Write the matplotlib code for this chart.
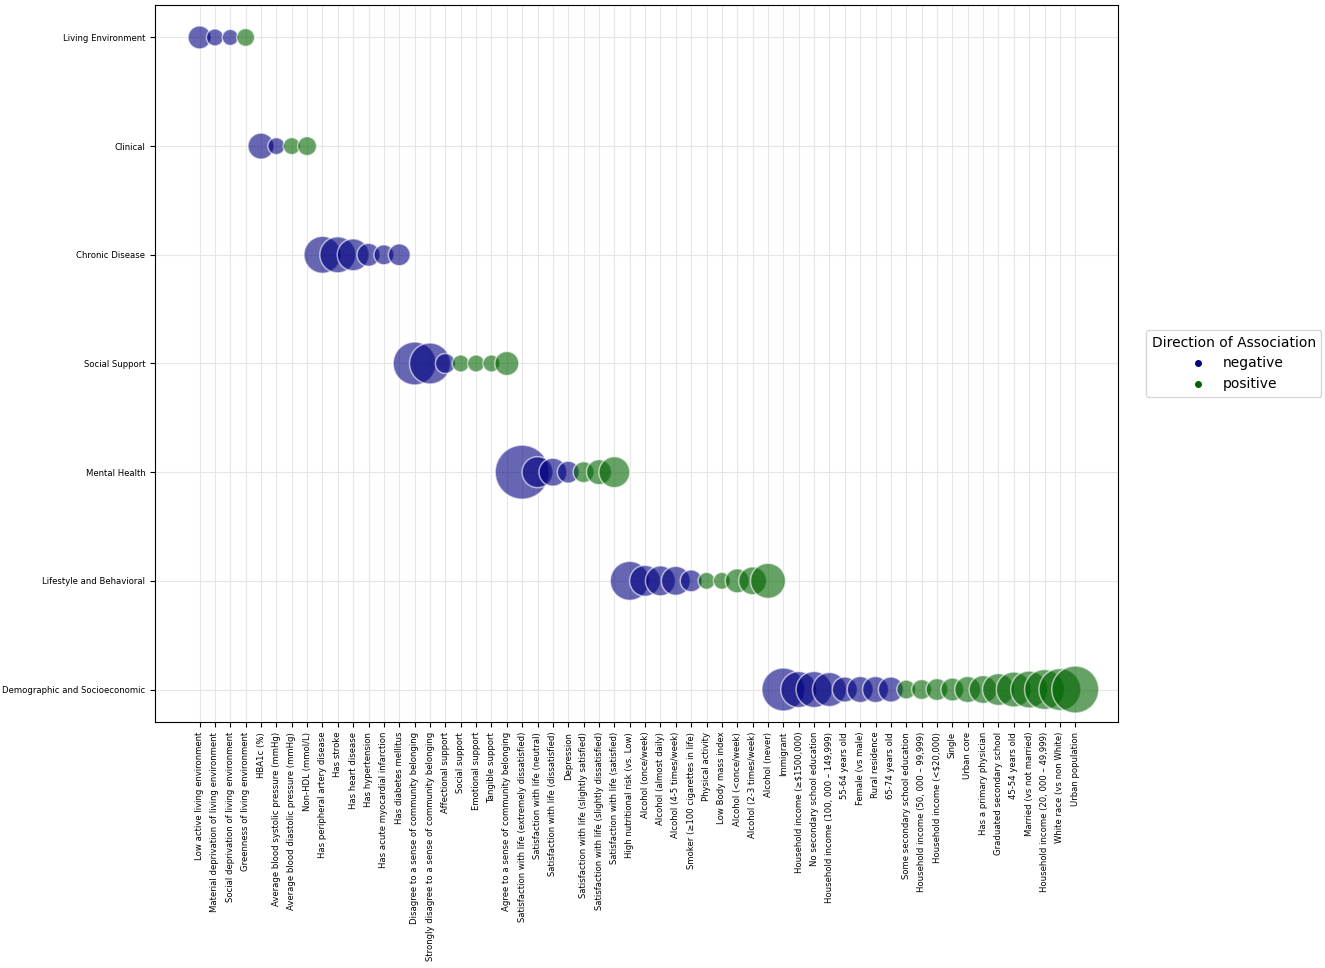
import matplotlib.pyplot as plt
from matplotlib.lines import Line2D
import numpy as np

# categories (y axis), top to bottom
categories = ["Living Environment", "Clinical", "Chronic Disease", "Social Support",
              "Mental Health", "Lifestyle and Behavioral", "Demographic and Socioeconomic"]

# factors (x axis) with their category, direction and importance
factors = [
    "Low active living environment", "Material deprivation of living environment",
    "Social deprivation of living environment", "Greenness of living environment",
    "HBA1c (%)", "Average blood systolic pressure (mmHg)",
    "Average blood diastolic pressure (mmHg)", "Non-HDL (mmol/L)",
    "Has peripheral artery disease", "Has stroke", "Has heart disease", "Has hypertension",
    "Has acute myocardial infarction", "Has diabetes mellitus",
    "Disagree to a sense of community belonging",
    "Strongly disagree to a sense of community belonging", "Affectional support",
    "Social support", "Emotional support", "Tangible support",
    "Agree to a sense of community belonging",
    "Satisfaction with life (extremely dissatisfied)", "Satisfaction with life (neutral)",
    "Satisfaction with life (dissatisfied)", "Depression",
    "Satisfaction with life (slightly satisfied)", "Satisfaction with life (slightly dissatisfied)",
    "Satisfaction with life (satisfied)",
    "High nutritional risk (vs. Low)", "Alcohol (once/week)", "Alcohol (almost daily)",
    "Alcohol (4-5 times/week)", "Smoker (≥100 cigarettes in life)", "Physical activity",
    "Low Body mass index", "Alcohol (<once/week)", "Alcohol (2-3 times/week)", "Alcohol (never)",
    "Immigrant", "Household income (≥$1500,000)", "No secondary school education",
    "Household income (100, 000 – 149,999)", "55-64 years old", "Female (vs male)",
    "Rural residence", "65-74 years old", "Some secondary school education",
    "Household income (50, 000 – 99,999)", "Household income (<$20,000)", "Single",
    "Urban core", "Has a primary physician", "Graduated secondary school", "45-54 years old",
    "Married (vs not married)", "Household income (20, 000 – 49,999)",
    "White race (vs non White)", "Urban population",
]

factor_category = ([0] * 4 + [1] * 4 + [2] * 6 + [3] * 7 + [4] * 7 + [5] * 10 + [6] * 20)

direction = (["negative"] * 3 + ["positive"] * 1 +
             ["negative"] * 2 + ["positive"] * 2 +
             ["negative"] * 6 +
             ["negative"] * 3 + ["positive"] * 4 +
             ["negative"] * 4 + ["positive"] * 3 +
             ["negative"] * 5 + ["positive"] * 5 +
             ["negative"] * 8 + ["positive"] * 12)

importance = [
    5.3, 2.9, 2.6, 3.2,
    6.8, 2.9, 2.9, 3.6,
    13.7, 13.0, 10.2, 5.3, 4.0, 4.8,
    18.5, 16.8, 4.0, 2.9, 2.9, 2.9, 5.8,
    29.2, 9.6, 7.8, 4.8, 4.4, 6.3, 9.6,
    15.2, 9.6, 9.0, 8.4, 4.8, 2.9, 2.9, 5.8, 7.8, 12.3,
    18.5, 13.0, 13.0, 11.6, 6.3, 6.8, 6.8, 6.3, 3.6, 4.0, 4.8, 5.3, 6.8, 7.8,
    10.2, 12.3, 13.7, 16.0, 17.6, 22.1,
]

palette = {"negative": "navy", "positive": "darkgreen"}

fig = plt.figure(figsize=(13.25, 9.68), dpi=100)
ax = fig.add_axes([0.117, 0.254, 0.727, 0.741])

x = np.arange(len(factors))
y = np.array(factor_category)
s = np.array(importance) * 51.84
cols = [palette[d] for d in direction]

ax.scatter(x, y, s=s, c=cols, alpha=0.6, edgecolors="white", linewidths=1.1, zorder=3)

ax.set_xticks(x)
ax.set_xticklabels(factors, rotation=90, fontsize=6.1)
ax.set_yticks(range(len(categories)))
ax.set_yticklabels(categories, fontsize=6.1)
ax.set_xlim(-2.9, 59.8)
ax.set_ylim(6.3, -0.3)
ax.grid(True, color="#e6e6e6", linewidth=0.8, zorder=0)
ax.set_axisbelow(True)

handles = [Line2D([], [], marker="o", linestyle="", color=palette[k], markersize=4, label=k)
           for k in ["negative", "positive"]]
ax.legend(handles=handles, title="Direction of Association", loc="center left",
          bbox_to_anchor=(1.029, 0.5), borderaxespad=0, fontsize=10, title_fontsize=10)

fig.savefig("out.png", dpi=100)
